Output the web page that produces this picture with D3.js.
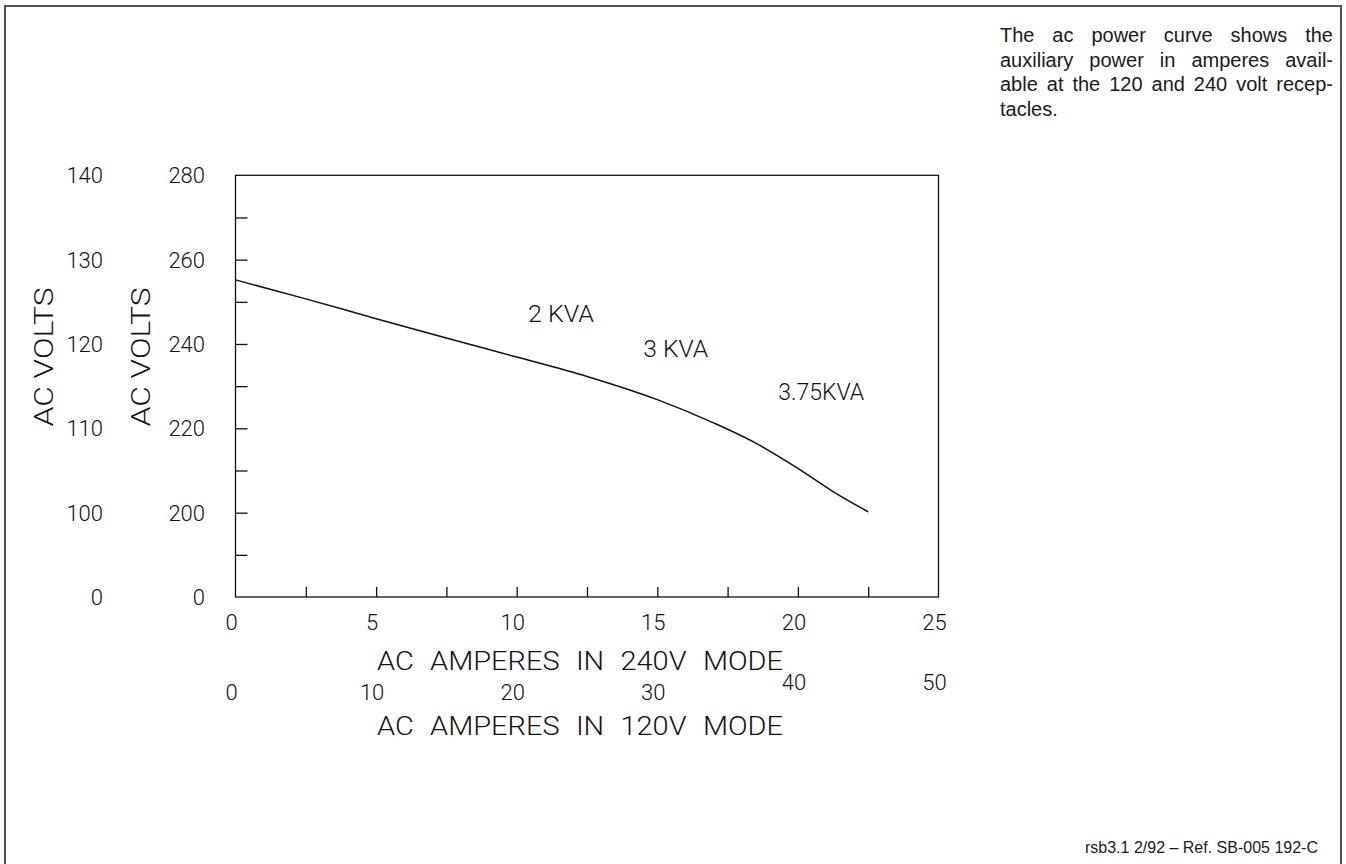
<!DOCTYPE html>
<html>
<head>
<meta charset="utf-8">
<script src="https://cdn.jsdelivr.net/npm/d3@7/dist/d3.min.js"></script>
<style>
  html, body { margin: 0; padding: 0; background: #fff; }
  svg { display: block; }
  .plot { font-family: "Roboto", "Liberation Sans", sans-serif; font-weight: 300; fill: #111; }
  .note { font-family: "Liberation Sans", Arial, sans-serif; fill: #1a1a1a; }
</style>
</head>
<body>
<svg id="chart" width="1346" height="864"></svg>
<script>
// ---- data ----
const amps240 = [0, 2.5, 5, 7.5, 10, 12.5, 15, 17, 18.5, 20, 21.25, 22.5];
const volts240 = [255.2, 250.7, 246.0, 241.4, 236.9, 232.3, 226.8, 221.3, 216.5, 210.5, 205.0, 200.2];

const yTickValues = [180, 200, 220, 240, 260, 280];
const yTickLabels240 = ["0", "200", "220", "240", "260", "280"];
const yTickLabels120 = ["0", "100", "110", "120", "130", "140"];
const yMinorTicks = [190, 200, 210, 220, 230, 240, 250, 260, 270];

const xTickValues240 = [0, 5, 10, 15, 20, 25];
const xTickLabels240 = ["0", "5", "10", "15", "20", "25"];
const xTickValues120 = [0, 10, 20, 30, 40, 50];
const xTickLabels120 = ["0", "10", "20", "30", "40", "50"];
const xMinorTicks = [2.5, 5, 7.5, 10, 12.5, 15, 17.5, 20, 22.5];

const kvaLabels = ["2 KVA", "3 KVA", "3.75KVA"];
const kvaAmps = [10.4, 14.5, 19.3];
const kvaVolts = [245.2, 236.9, 226.7];

const noteLines = ["The ac power curve shows the", "auxiliary power in amperes avail-", "able at the 120 and 240 volt recep-", "tacles."];
const footer = "rsb3.1 2/92 \u2013 Ref. SB-005 192-C";

// ---- layout ----
const svg = d3.select("#chart");
const L = 235.5, R = 938.5, T = 175.3, B = 597;
const x = d3.scaleLinear().domain([0, 25]).range([L, R]);
const y = d3.scaleLinear().domain([180, 280]).range([B, T]);

// page frame
svg.append("path")
  .attr("d", "M5,870 V6 H1341 V870")
  .attr("fill", "none").attr("stroke", "#555").attr("stroke-width", 2);

// plot box
svg.append("rect").attr("x", L).attr("y", T).attr("width", R - L).attr("height", B - T)
  .attr("fill", "none").attr("stroke", "#111").attr("stroke-width", 1.3);

// inward tick marks using d3 axes
const yAxis = d3.axisRight(y).tickValues(yMinorTicks).tickSize(12).tickFormat("");
const gy = svg.append("g").attr("transform", `translate(${L},0)`).call(yAxis);
gy.select(".domain").remove();
gy.selectAll("line").attr("stroke", "#111").attr("stroke-width", 1.3);

const xAxis = d3.axisTop(x).tickValues(xMinorTicks).tickSize(10).tickFormat("");
const gx = svg.append("g").attr("transform", `translate(0,${B})`).call(xAxis);
gx.select(".domain").remove();
gx.selectAll("line").attr("stroke", "#111").attr("stroke-width", 1.3);

// curve
const line = d3.line().x((d, i) => x(amps240[i])).y((d, i) => y(volts240[i])).curve(d3.curveMonotoneX);
svg.append("path").datum(volts240).attr("d", line)
  .attr("fill", "none").attr("stroke", "#111").attr("stroke-width", 1.5);

const plot = svg.append("g").attr("class", "plot");

// y tick labels (inner 240V, outer 120V)
plot.selectAll(".yl240").data(yTickValues).join("text")
  .attr("x", 205).attr("y", d => y(d) + 8)
  .attr("text-anchor", "end").attr("font-size", 22)
  .text((d, i) => yTickLabels240[i]);
plot.selectAll(".yl120").data(yTickValues).join("text")
  .attr("x", 103).attr("y", d => y(d) + 8)
  .attr("text-anchor", "end").attr("font-size", 22)
  .text((d, i) => yTickLabels120[i]);

// y axis titles
[53, 150].forEach(cx => {
  plot.append("text")
    .attr("transform", `translate(${cx},357) rotate(-90)`)
    .attr("text-anchor", "middle").attr("font-size", 25)
    .attr("textLength", 139).attr("lengthAdjust", "spacingAndGlyphs")
    .text("AC VOLTS");
});

// x tick labels 240V
plot.selectAll(".xl240").data(xTickValues240).join("text")
  .attr("x", d => x(d) - 4).attr("y", 630)
  .attr("text-anchor", "middle").attr("font-size", 22)
  .text((d, i) => xTickLabels240[i]);

// x tick labels 120V (value / 2 on the 240V scale)
plot.selectAll(".xl120").data(xTickValues120).join("text")
  .attr("x", d => x(d / 2) - 4).attr("y", d => d >= 40 ? 690 : 700)
  .attr("text-anchor", "middle").attr("font-size", 22)
  .text((d, i) => xTickLabels120[i]);

// x axis titles
plot.append("text").attr("x", 377).attr("y", 670).attr("font-size", 25)
  .attr("textLength", 406).attr("lengthAdjust", "spacingAndGlyphs")
  .attr("word-spacing", 8)
  .text("AC AMPERES IN 240V MODE");
plot.append("text").attr("x", 377).attr("y", 735).attr("font-size", 25)
  .attr("textLength", 406).attr("lengthAdjust", "spacingAndGlyphs")
  .attr("word-spacing", 8)
  .text("AC AMPERES IN 120V MODE");

// KVA annotations
const kvaW = [66, 65, 86];
plot.selectAll(".kva").data(kvaLabels).join("text")
  .attr("x", (d, i) => x(kvaAmps[i])).attr("y", (d, i) => y(kvaVolts[i]))
  .attr("font-size", 23)
  .attr("textLength", (d, i) => kvaW[i]).attr("lengthAdjust", "spacingAndGlyphs")
  .text(d => d);

// justified note top right
const note = svg.append("g").attr("class", "note");
const nx0 = 1000, nx1 = 1333, nb0 = 42, nlh = 24.5, nfs = 20;
noteLines.forEach((ln, li) => {
  const words = ln.split(" ");
  const by = nb0 + li * nlh;
  if (li === noteLines.length - 1) {
    note.append("text").attr("x", nx0).attr("y", by).attr("font-size", nfs).text(ln);
    return;
  }
  const nodes = words.map(w => note.append("text").attr("y", by).attr("font-size", nfs).text(w));
  const widths = nodes.map(n => n.node().getComputedTextLength());
  const total = d3.sum(widths);
  const gap = (nx1 - nx0 - total) / (words.length - 1);
  let cx = nx0;
  nodes.forEach((n, i) => { n.attr("x", cx); cx += widths[i] + gap; });
});

// footer
svg.append("text").attr("class", "note").attr("x", 1318).attr("y", 853)
  .attr("text-anchor", "end").attr("font-size", 16).text(footer);
</script>
</body>
</html>
